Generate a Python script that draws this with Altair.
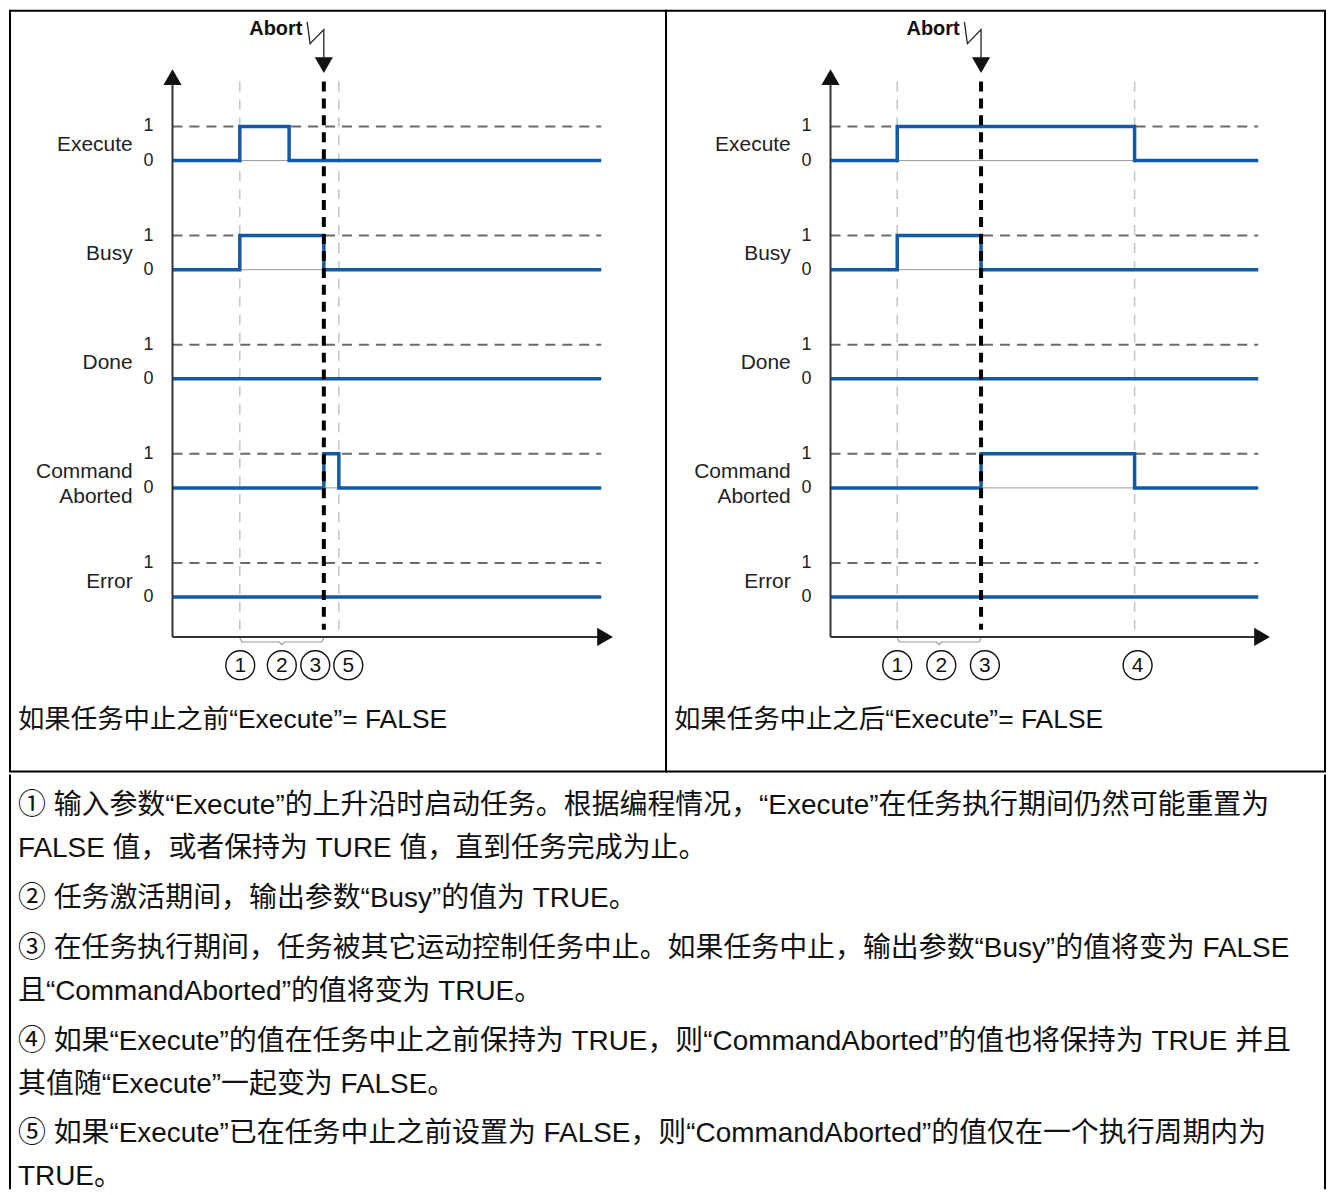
import altair as alt
import pandas as pd

# ------------------------------------------------------------------ data
SIGNALS = ["Execute", "Busy", "Done", "CommandAborted", "Error"]
SIGNAL_LABELS = [["Execute"], ["Busy"], ["Done"], ["Command", "Aborted"], ["Error"]]
LEVEL_LABELS = ["0", "1"]

# time axis in arbitrary units: 0 = origin of the time axis, 100 = end of the traces
T_END = 100

# left diagram: "Execute" = FALSE before the abort
L_EXECUTE_T = [0, 15.7, 27.2, 100]
L_EXECUTE_V = [0, 1, 0, 0]
L_BUSY_T = [0, 15.7, 35.3, 100]
L_BUSY_V = [0, 1, 0, 0]
L_DONE_T = [0, 100]
L_DONE_V = [0, 0]
L_CMDABORT_T = [0, 35.3, 38.8, 100]
L_CMDABORT_V = [0, 1, 0, 0]
L_ERROR_T = [0, 100]
L_ERROR_V = [0, 0]
L_ABORT_T = 35.3
L_START_T = 15.7
L_GUIDE_T = [15.7, 38.8]
L_MARKERS = ["1", "2", "3", "5"]
L_MARKER_T = [15.8, 25.5, 33.3, 41.0]
L_CAPTION = "如果任务中止之前“Execute”= FALSE"

# right diagram: "Execute" = FALSE after the abort
R_EXECUTE_T = [0, 15.6, 71.1, 100]
R_EXECUTE_V = [0, 1, 0, 0]
R_BUSY_T = [0, 15.6, 35.2, 100]
R_BUSY_V = [0, 1, 0, 0]
R_DONE_T = [0, 100]
R_DONE_V = [0, 0]
R_CMDABORT_T = [0, 35.2, 71.1, 100]
R_CMDABORT_V = [0, 1, 0, 0]
R_ERROR_T = [0, 100]
R_ERROR_V = [0, 0]
R_ABORT_T = 35.2
R_START_T = 15.6
R_GUIDE_T = [15.6, 71.1]
R_MARKERS = ["1", "2", "3", "4"]
R_MARKER_T = [15.6, 25.9, 36.1, 71.8]
R_CAPTION = "如果任务中止之后“Execute”= FALSE"

NOTE_LINES = [
    "① 输入参数“Execute”的上升沿时启动任务。根据编程情况，“Execute”在任务执行期间仍然可能重置为",
    "FALSE 值，或者保持为 TURE 值，直到任务完成为止。",
    "② 任务激活期间，输出参数“Busy”的值为 TRUE。",
    "③ 在任务执行期间，任务被其它运动控制任务中止。如果任务中止，输出参数“Busy”的值将变为 FALSE",
    "且“CommandAborted”的值将变为 TRUE。",
    "④ 如果“Execute”的值在任务中止之前保持为 TRUE，则“CommandAborted”的值也将保持为 TRUE 并且",
    "其值随“Execute”一起变为 FALSE。",
    "⑤ 如果“Execute”已在任务中止之前设置为 FALSE，则“CommandAborted”的值仅在一个执行周期内为",
    "TRUE。",
]
NOTE_PARAGRAPH = [0, 0, 1, 2, 2, 3, 3, 4, 4]

# ------------------------------------------------------------------ layout / style
ROW_GAP = 3.2           # vertical distance between signal rows (level units)
H_TOP = 763
W_LEFT = 658
W_RIGHT = 661
H_NOTES = 400
Y_DOMAIN = [-5.117, 17.193]
L_X_DOMAIN = [-37.907, 115.116]
R_X_DOMAIN = [-38.462, 115.618]
Y_XAXIS = -1.17
Y_AXIS_TOP = 15.03
GUIDE_TOP = 15.12
GUIDE_BOTTOM = -0.96
BLUE = "#125aa6"
FONT_LATIN = "Liberation Sans, Arial, sans-serif"
FONT_TEXT = "Liberation Sans, Noto Sans CJK SC, sans-serif"
LIGHTNING_DT = [-3.9, -3.2, 0, 0]
LIGHTNING_Y = [16.87, 16.23, 16.64, 15.79]


def base_of(i):
    return (len(SIGNALS) - 1 - i) * ROW_GAP


def panel(width, xdom, traces, abort_t, start_t, guide_t, markers, marker_t, caption):
    xs = alt.Scale(domain=xdom, nice=False, zero=False)
    ys = alt.Scale(domain=Y_DOMAIN, nice=False, zero=False)

    def X(f):
        return alt.X(f, type="quantitative", scale=xs, axis=None)

    def Y(f):
        return alt.Y(f, type="quantitative", scale=ys, axis=None)

    rows = []
    for i, (name, (ts, vs)) in enumerate(zip(SIGNALS, traces)):
        for k, (t, v) in enumerate(zip(ts, vs)):
            rows.append({"signal": name, "k": k, "t": t, "y": base_of(i) + v})
    trace_df = pd.DataFrame(rows)

    lvl_df = pd.DataFrame(
        [{"t0": 0, "t1": T_END, "y": base_of(i) + 1} for i in range(len(SIGNALS))]
    )
    zero_df = pd.DataFrame(
        [{"t0": 0, "t1": T_END, "y": base_of(i)} for i in range(len(SIGNALS))]
    )
    guide_df = pd.DataFrame({"t": guide_t, "y0": GUIDE_TOP, "y1": GUIDE_BOTTOM})
    abort_df = pd.DataFrame({"t": [abort_t], "y0": [GUIDE_TOP], "y1": [GUIDE_BOTTOM]})
    yaxis_df = pd.DataFrame({"t": [0], "y0": [Y_XAXIS], "y1": [Y_AXIS_TOP]})
    xaxis_df = pd.DataFrame({"t0": [0], "t1": [T_END], "y": [Y_XAXIS]})
    arrow_df = pd.DataFrame(
        {
            "t": [0, T_END + 0.9, abort_t],
            "y": [15.25, Y_XAXIS, 15.6],
            "shape": ["triangle-up", "triangle-right", "triangle-down"],
        }
    )
    light_df = pd.DataFrame(
        {"k": range(4), "t": [abort_t + d for d in LIGHTNING_DT], "y": LIGHTNING_Y}
    )
    abort_txt = pd.DataFrame({"t": [abort_t - 5.0], "y": [16.67], "text": ["Abort"]})

    lab_rows = []
    for i, lines in enumerate(SIGNAL_LABELS):
        if len(lines) == 1:
            lab_rows.append({"t": -9.3, "y": base_of(i) + 0.45, "text": lines[0]})
        else:
            lab_rows.append({"t": -9.3, "y": base_of(i) + 0.48, "text": lines[0]})
            lab_rows.append({"t": -9.3, "y": base_of(i) - 0.28, "text": lines[1]})
    lab_df = pd.DataFrame(lab_rows)
    lvl_lab_df = pd.DataFrame(
        [
            {"t": -5.6, "y": base_of(i) + int(l), "text": l}
            for i in range(len(SIGNALS))
            for l in LEVEL_LABELS
        ]
    )
    mid = (start_t + abort_t) / 2
    brace_df = pd.DataFrame(
        {
            "k": range(7),
            "t": [start_t, start_t + 0.5, mid - 0.6, mid, mid + 0.6, abort_t - 0.5, abort_t],
            "y": [-1.20, -1.32, -1.32, -1.40, -1.32, -1.32, -1.20],
        }
    )
    mark_df = pd.DataFrame({"t": marker_t, "y": -2.0, "text": markers})
    cap_df = pd.DataFrame({"t": [xdom[0] + 1.85], "y": [-3.62], "text": [caption]})

    layers = [
        alt.Chart(zero_df).mark_rule(color="#9a9a9a", strokeWidth=1).encode(
            x=X("t0"), x2="t1", y=Y("y")
        ),
        alt.Chart(lvl_df).mark_rule(color="#6a6a6a", strokeWidth=2, strokeDash=[10, 7]).encode(
            x=X("t0"), x2="t1", y=Y("y")
        ),
        alt.Chart(guide_df).mark_rule(color="#c4c4c4", strokeWidth=1.5, strokeDash=[10, 8]).encode(
            x=X("t"), y=Y("y0"), y2="y1"
        ),
        alt.Chart(trace_df).mark_line(
            interpolate="step-after", color=BLUE, strokeWidth=3.5, strokeJoin="miter"
        ).encode(x=X("t"), y=Y("y"), detail="signal:N", order="k:Q"),
        alt.Chart(abort_df).mark_rule(color="#000000", strokeWidth=4, strokeDash=[10, 7]).encode(
            x=X("t"), y=Y("y0"), y2="y1"
        ),
        alt.Chart(yaxis_df).mark_rule(color="#333333", strokeWidth=2).encode(
            x=X("t"), y=Y("y0"), y2="y1"
        ),
        alt.Chart(xaxis_df).mark_rule(color="#333333", strokeWidth=2).encode(
            x=X("t0"), x2="t1", y=Y("y")
        ),
        alt.Chart(arrow_df).mark_point(filled=True, size=330, color="#111111", opacity=1).encode(
            x=X("t"), y=Y("y"), shape=alt.Shape("shape:N", scale=None)
        ),
        alt.Chart(light_df).mark_line(color="#222222", strokeWidth=1.3).encode(
            x=X("t"), y=Y("y"), order="k:Q"
        ),
        alt.Chart(abort_txt).mark_text(
            align="right", baseline="middle", font=FONT_LATIN, fontSize=20,
            fontWeight="bold", color="#111111"
        ).encode(x=X("t"), y=Y("y"), text="text:N"),
        alt.Chart(lab_df).mark_text(
            align="right", baseline="middle", font=FONT_LATIN, fontSize=21, color="#222222"
        ).encode(x=X("t"), y=Y("y"), text="text:N"),
        alt.Chart(lvl_lab_df).mark_text(
            align="center", baseline="middle", font=FONT_LATIN, fontSize=18, color="#222222"
        ).encode(x=X("t"), y=Y("y"), text="text:N"),
        alt.Chart(brace_df).mark_line(color="#999999", strokeWidth=1.2).encode(
            x=X("t"), y=Y("y"), order="k:Q"
        ),
        alt.Chart(mark_df).mark_point(
            shape="circle", size=841, filled=False, color="#111111", strokeWidth=1.4, opacity=1
        ).encode(x=X("t"), y=Y("y")),
        alt.Chart(mark_df).mark_text(
            align="center", baseline="middle", font=FONT_LATIN, fontSize=21, color="#111111", dy=1
        ).encode(x=X("t"), y=Y("y"), text="text:N"),
        alt.Chart(cap_df).mark_text(
            align="left", baseline="middle", font=FONT_TEXT, fontSize=26.5, color="#111111"
        ).encode(x=X("t"), y=Y("y"), text="text:N"),
    ]
    return alt.layer(*layers).properties(
        width=width, height=H_TOP,
        view=alt.ViewBackground(stroke="#000000", strokeWidth=2),
    )


left = panel(
    W_LEFT, L_X_DOMAIN,
    [(L_EXECUTE_T, L_EXECUTE_V), (L_BUSY_T, L_BUSY_V), (L_DONE_T, L_DONE_V),
     (L_CMDABORT_T, L_CMDABORT_V), (L_ERROR_T, L_ERROR_V)],
    L_ABORT_T, L_START_T, L_GUIDE_T, L_MARKERS, L_MARKER_T, L_CAPTION,
)
right = panel(
    W_RIGHT, R_X_DOMAIN,
    [(R_EXECUTE_T, R_EXECUTE_V), (R_BUSY_T, R_BUSY_V), (R_DONE_T, R_DONE_V),
     (R_CMDABORT_T, R_CMDABORT_V), (R_ERROR_T, R_ERROR_V)],
    R_ABORT_T, R_START_T, R_GUIDE_T, R_MARKERS, R_MARKER_T, R_CAPTION,
)

# ------------------------------------------------------------------ notes
W_NOTES = W_LEFT + W_RIGHT
notes_df = pd.DataFrame(
    {"text": NOTE_LINES, "line": range(len(NOTE_LINES)), "para": NOTE_PARAGRAPH}
)
notes_df["ypos"] = 32 + 43 * notes_df["line"] + 7 * notes_df["para"]
ny = alt.Scale(domain=[0, H_NOTES], reverse=True, nice=False, zero=False)

notes_text = alt.Chart(notes_df).mark_text(
    align="left", baseline="middle", font=FONT_TEXT, fontSize=28, color="#111111"
).encode(
    x=alt.value(8),
    y=alt.Y("ypos:Q", scale=ny, axis=None),
    text="text:N",
)
border_df = pd.DataFrame({"side": ["left"]})
notes_left = alt.Chart(border_df).mark_rule(color="#000000", strokeWidth=2).encode(
    x=alt.value(0), y=alt.value(0), y2=alt.value(H_NOTES + 16)
)
notes_right = alt.Chart(border_df).mark_rule(color="#000000", strokeWidth=2).encode(
    x=alt.value(W_NOTES), y=alt.value(0), y2=alt.value(H_NOTES + 16)
)
notes = alt.layer(notes_left, notes_right, notes_text).properties(
    width=W_NOTES, height=H_NOTES
)

top = alt.hconcat(left, right, spacing=0, bounds="flush")
chart = (
    alt.vconcat(top, notes, spacing=0)
    .properties(padding=0)
    .configure_view(stroke="transparent")
)

chart.save("out.html", embed_options={"renderer": "svg", "actions": False})
